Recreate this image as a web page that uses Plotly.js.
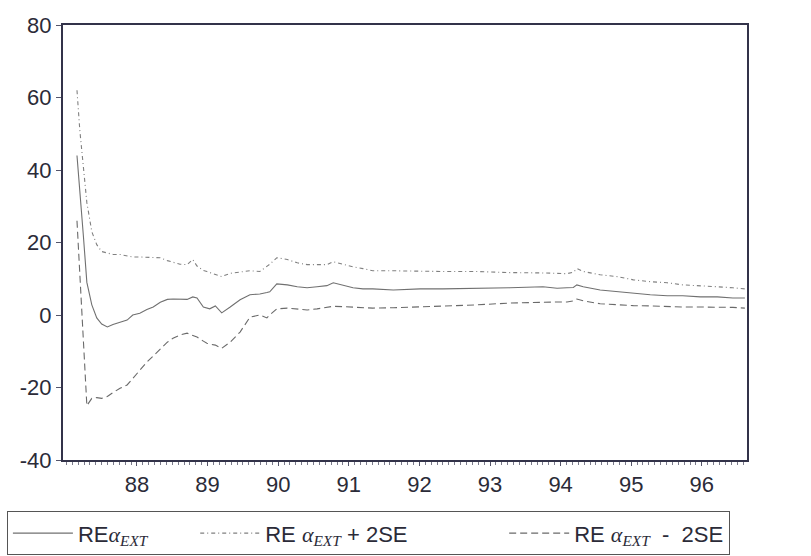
<!DOCTYPE html>
<html>
<head>
<meta charset="utf-8">
<script src="https://cdn.plot.ly/plotly-3.0.1.min.js"></script>
<style>html,body{margin:0;padding:0;background:#fff;}#chart{width:811px;height:556px;}</style>
</head>
<body>
<div id="chart"></div>
<script>
// time (decimal years)
const years = [1987.15,1987.19,1987.24,1987.29,1987.36,1987.43,1987.50,1987.58,1987.66,1987.76,1987.86,1987.94,
  1988.04,1988.14,1988.23,1988.33,1988.43,1988.51,1988.61,1988.71,1988.79,1988.85,1988.94,1988.99,
  1989.03,1989.11,1989.20,1989.32,1989.46,1989.60,1989.74,1989.84,1989.88,1989.98,
  1990.13,1990.27,1990.41,1990.55,1990.69,1990.78,1990.92,
  1991.06,1991.20,1991.34,1991.63,1992.01,1992.33,1992.82,1993.28,1993.75,1993.95,
  1994.09,1994.18,1994.23,1994.32,1994.56,1994.80,1995.03,1995.27,1995.51,1995.73,1995.98,
  1996.22,1996.44,1996.61];
const reAlpha = [44,33,22,9,2.8,-0.8,-2.5,-3.3,-2.6,-2.0,-1.4,0,
  0.5,1.5,2.2,3.5,4.3,4.4,4.4,4.3,5,4.7,2.2,1.9,
  1.7,2.5,0.6,2.2,4.2,5.6,5.8,6.2,6.4,8.6,
  8.3,7.8,7.5,7.8,8.1,8.9,8.1,
  7.5,7.2,7.2,6.9,7.2,7.2,7.3,7.5,7.8,7.4,
  7.5,7.6,8.3,7.8,6.9,6.4,6.1,5.6,5.3,5.3,5,
  5,4.7,4.7];
const rePlus2SE = [62,51,41,31,23,19.4,17.5,17,16.7,16.7,16.2,16,
  16,16,15.9,15.8,15,14.5,14,13.9,15.3,13.5,12.3,12,
  11.7,11.2,10.6,11.5,11.8,12.2,12,13.3,14,15.8,
  15.3,14.4,13.9,13.9,13.9,14.7,13.9,
  13.3,12.8,12.2,12.2,12,12,12,11.7,11.6,11.4,
  11.4,11.8,12.8,12,11.1,10.6,9.7,9.2,8.9,8.3,8.1,
  7.8,7.5,7.2];
const reMinus2SE = [26,12,-6,-25,-23,-22.8,-23,-22.5,-21.4,-20.2,-19.3,-17.5,
  -15.2,-13,-11.3,-9.5,-7.5,-6.4,-5.5,-5,-5.6,-6.1,-7.2,-7.8,
  -8,-8.3,-9.2,-7.5,-4.7,-0.6,0,-0.8,0,1.7,
  1.9,1.7,1.4,1.7,2.2,2.4,2.3,
  2.2,1.9,1.9,2,2.2,2.5,2.8,3.3,3.6,3.6,
  3.6,3.9,4.4,3.9,3.1,2.8,2.6,2.5,2.3,2.2,2.2,
  2.2,2.1,1.9];
const xTickVals = [1988,1989,1990,1991,1992,1993,1994,1995,1996];
const xTickText = ['88','89','90','91','92','93','94','95','96'];
const yTickVals = [-40,-20,0,20,40,60,80];
const yTickText = ['-40','-20','0','20','40','60','80'];

const alpha = '<span style="font-family:\'Liberation Serif\',serif;font-style:italic">α<sub>EXT</sub></span>';
const pad = n => '\u00a0'.repeat(n);
const names = ['RE' + alpha + pad(7), 'RE ' + alpha + ' + 2SE' + pad(15), 'RE ' + alpha + '  -  2SE'];

const traces = [
  {x: years, y: reAlpha, name: names[0], mode: 'lines',
   line: {color: '#707070', width: 1.1}},
  {x: years, y: rePlus2SE, name: names[1], mode: 'lines',
   line: {color: '#808080', width: 1.1, dash: '4px,3px,1px,3px'}},
  {x: years, y: reMinus2SE, name: names[2], mode: 'lines',
   line: {color: '#6a6a6a', width: 1.1, dash: '7px,4px'}}
];

const layout = {
  width: 811, height: 556,
  margin: {l: 63, r: 64, t: 25, b: 96, autoexpand: false},
  paper_bgcolor: '#ffffff', plot_bgcolor: '#ffffff',
  font: {family: "'Liberation Sans', Arial, sans-serif", color: '#2b2b38', size: 22},
  showlegend: true,
  legend: {
    orientation: 'h', x: -0.082, y: -0.118, xanchor: 'left', yanchor: 'top',
    bordercolor: '#555555', borderwidth: 1, bgcolor: '#ffffff',
    font: {size: 22, color: '#2b2b38'}, itemwidth: 60
  },
  xaxis: {
    range: [1986.952, 1996.64], tickvals: xTickVals, ticktext: xTickText,
    showgrid: false, zeroline: false, showline: true, mirror: true,
    linecolor: '#33334a', linewidth: 2, ticks: 'outside', ticklen: 4, tickcolor: '#55556a',
    minor: {dtick: 1/12, tick0: 1987, ticks: 'outside', ticklen: 3, tickcolor: '#7a7a8a', showgrid: false},
    tickfont: {size: 22}
  },
  yaxis: {
    range: [-40, 80], tickvals: yTickVals, ticktext: yTickText,
    showgrid: false, zeroline: false, showline: true, mirror: true,
    linecolor: '#33334a', linewidth: 2, ticks: 'outside', ticklen: 5, tickcolor: '#55556a',
    tickfont: {size: 22}
  }
};

Plotly.newPlot('chart', traces, layout, {staticPlot: true, displayModeBar: false});
</script>
</body>
</html>
